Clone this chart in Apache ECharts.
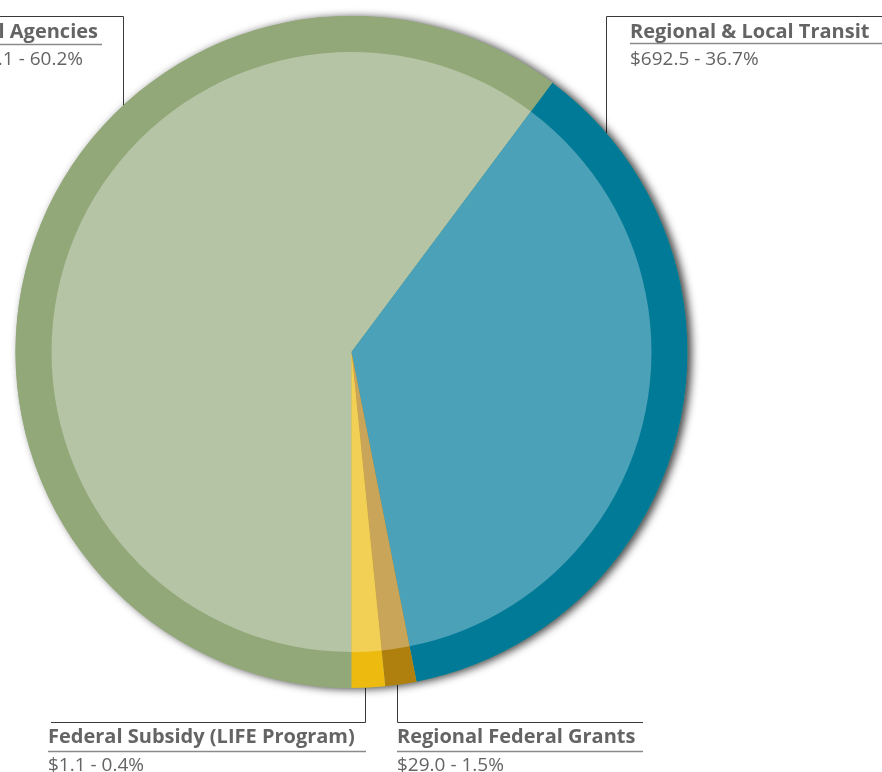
<!DOCTYPE html>
<html>
<head>
<meta charset="utf-8">
<script src="https://cdn.jsdelivr.net/npm/echarts@6/dist/echarts.min.js"></script>
<style>
html,body{margin:0;padding:0;background:#fff;overflow:hidden;}
#chart{width:882px;height:772px;}
</style>
</head>
<body>
<div id="chart"></div>
<script>
// Slice order clockwise starting at 6 o'clock
var categories = ['Municipal Agencies', 'Regional & Local Transit', 'Regional Federal Grants', 'Federal Subsidy (LIFE Program)'];
var amountLabels = ['$1,136.1 - 60.2%', '$692.5 - 36.7%', '$29.0 - 1.5%', '$1.1 - 0.4%'];
// slice sizes as drawn in the picture (percent of circle)
var sliceValues = [60.2, 36.7, 1.5, 1.6];
var outerColors = ['#93a878', '#007a96', '#b0800e', '#edba10'];
var innerColors = ['#b5c4a5', '#4ba1b7', '#c9a55a', '#f2cf55'];

var chart = echarts.init(document.getElementById('chart'), null, {renderer: 'canvas'});

function makeData(colors) {
  return categories.map(function (c, i) {
    return {name: c, value: sliceValues[i], itemStyle: {color: colors[i]}};
  });
}

var CX = 351.5, CY = 352;
var fontFam = '"Open Sans", Lato, sans-serif';
var titleColor = '#646464';
var leaderColor = '#3a3a3a';
var underColor = '#8a8a8a';

function labelGroup(cfg) {
  var els = [];
  els.push({type: 'polyline', shape: {points: cfg.leader}, style: {stroke: leaderColor, lineWidth: 1, fill: null}, silent: true});
  els.push({type: 'line', shape: {x1: cfg.underX1, y1: cfg.underY, x2: cfg.underX2, y2: cfg.underY}, style: {stroke: underColor, lineWidth: 1.5}, silent: true});
  els.push({type: 'text', x: cfg.textX, y: cfg.titleY, style: {text: cfg.title, font: 'bold 20px ' + fontFam, fill: titleColor, align: cfg.align, verticalAlign: 'top'}, silent: true});
  els.push({type: 'text', x: cfg.valueX, y: cfg.valueY, style: {text: cfg.value, font: '19px ' + fontFam, fill: titleColor, align: cfg.align, verticalAlign: 'top'}, silent: true});
  return els;
}

var graphics = [].concat(
  labelGroup({title: categories[0], value: amountLabels[0], align: 'right', textX: 98, titleY: 22, valueX: 83, valueY: 50,
    underX1: 0, underX2: 102, underY: 44.5, leader: [[0, 16.5], [123.5, 16.5], [123.5, 134]]}),
  labelGroup({title: categories[1], value: amountLabels[1], align: 'left', textX: 630, titleY: 22, valueX: 630, valueY: 50,
    underX1: 630, underX2: 882, underY: 43.5, leader: [[882, 16.5], [606.5, 16.5], [606.5, 162]]}),
  labelGroup({title: categories[2], value: amountLabels[2], align: 'left', textX: 397, titleY: 727.5, valueX: 397, valueY: 756.5,
    underX1: 397, underX2: 643, underY: 751.5, leader: [[397.5, 664], [397.5, 722.5], [643, 722.5]]}),
  labelGroup({title: categories[3], value: amountLabels[3], align: 'left', textX: 48, titleY: 727.5, valueX: 48, valueY: 756.5,
    underX1: 48, underX2: 366, underY: 751.5, leader: [[51, 722.5], [365.5, 722.5], [365.5, 671]]})
);

var commonPie = {
  type: 'pie',
  center: [CX, CY],
  startAngle: 270,
  clockwise: true,
  silent: true,
  animation: false,
  avoidLabelOverlap: false,
  label: {show: false},
  labelLine: {show: false},
  emphasis: {disabled: true}
};

chart.setOption({
  backgroundColor: '#ffffff',
  animation: false,
  series: [
    Object.assign({}, commonPie, {
      name: 'shadow', radius: [0, 336], z: 1,
      data: [{value: 1, itemStyle: {color: '#93a878', shadowBlur: 8, shadowOffsetX: 4, shadowOffsetY: 1, shadowColor: 'rgba(0,0,0,0.75)'}}]
    }),
    Object.assign({}, commonPie, {name: 'outer', radius: [0, 336], z: 2, data: makeData(outerColors)}),
    Object.assign({}, commonPie, {name: 'inner', radius: [0, 300], z: 3, data: makeData(innerColors)})
  ],
  graphic: graphics
});
</script>
</body>
</html>
